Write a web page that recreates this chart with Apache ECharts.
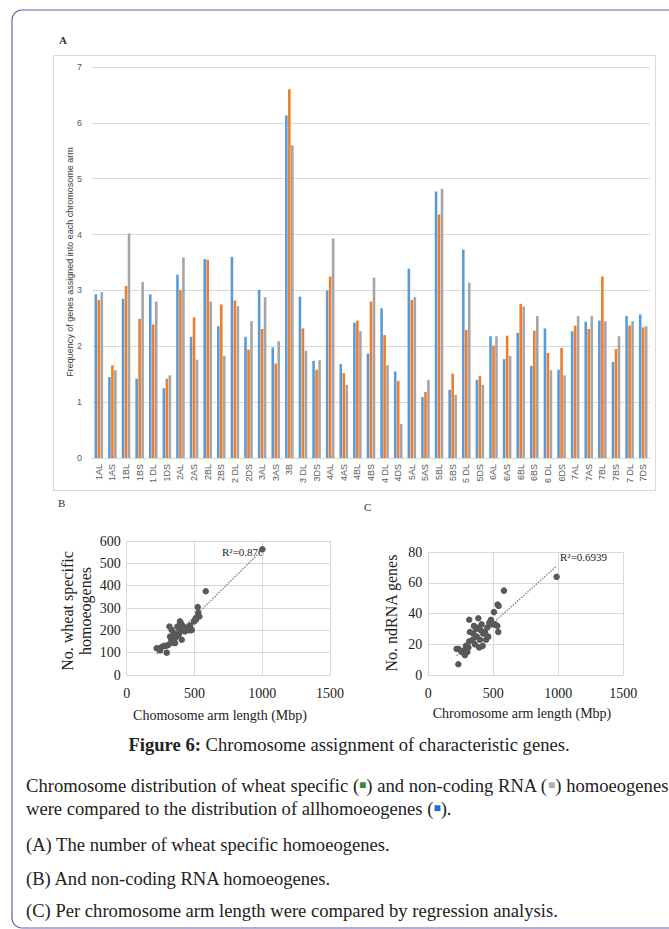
<!DOCTYPE html>
<html>
<head>
<meta charset="utf-8">
<script src="https://cdn.jsdelivr.net/npm/echarts@6/dist/echarts.min.js"></script>
<style>
html,body{margin:0;padding:0;background:#fff;}
#c{width:669px;height:929px;}
</style>
</head>
<body>
<div id="c"></div>
<script>
// ---------- Panel A data ----------
const arms = ["1AL","1AS","1BL","1BS","1 DL","1DS","2AL","2AS","2BL","2BS","2 DL","2DS",
  "3AL","3AS","3B","3 DL","3DS","4AL","4AS","4BL","4BS","4 DL","4DS",
  "5AL","5AS","5BL","5BS","5 DL","5DS","6AL","6AS","6BL","6BS","6 DL","6DS",
  "7AL","7AS","7BL","7BS","7 DL","7DS"];
const allHomoeo = [2.93,1.45,2.85,1.42,2.93,1.25,3.28,2.17,3.56,2.36,3.60,2.17,
  3.01,1.98,6.13,2.89,1.74,3.00,1.68,2.42,1.87,2.68,1.55,
  3.39,1.09,4.77,1.22,3.73,1.40,2.18,1.77,2.24,1.65,2.32,1.58,
  2.27,2.44,2.46,1.72,2.54,2.57];
const wheatSpecific = [2.83,1.66,3.08,2.49,2.39,1.42,3.01,2.52,3.55,2.75,2.82,1.94,
  2.31,1.69,6.60,2.32,1.58,3.25,1.52,2.46,2.80,2.20,1.38,
  2.83,1.18,4.36,1.51,2.29,1.47,2.01,2.19,2.76,2.28,1.88,1.97,
  2.37,2.31,3.25,1.95,2.37,2.34];
const nonCoding = [2.97,1.57,4.02,3.15,2.80,1.48,3.59,1.76,2.80,1.83,2.72,2.45,
  2.88,2.09,5.60,1.92,1.75,3.93,1.31,2.27,3.23,1.66,0.61,
  2.88,1.40,4.82,1.13,3.14,1.31,2.18,1.83,2.71,2.54,1.57,1.48,
  2.54,2.54,2.45,2.18,2.45,2.36];

// ---------- Panel B data: [arm length (Mbp), no. wheat specific homoeogenes] ----------
const scatterB = [[1001,563],[583,375],[524,304],[528,278],[536,262],[511,248],[497,240],[480,202],
  [455,202],[430,195],[393,240],[406,225],[374,217],[315,217],[332,202],[349,187],[384,180],
  [364,170],[406,158],[329,158],[320,172],[357,143],[307,135],[275,131],[258,125],[221,120],
  [246,110],[295,100],[443,210],[467,221],[418,202],[400,232],[385,205],[350,160],[340,145],
  [290,130],[236,118],[510,255],[470,200],[425,215],[395,195]];
const trendB = [0.598, -38];   // slope, intercept
const r2B = "R²=0.876";

// ---------- Panel C data: [arm length (Mbp), no. ncRNA genes] ----------
const scatterC = [[987,64],[582,55],[533,46],[541,45],[505,41],[482,36],[492,33],[513,33],[531,32],
  [538,28],[469,34],[385,37],[315,36],[385,31],[405,29],[423,27],[444,23],[418,19],[392,18],
  [320,28],[346,27],[372,25],[341,23],[315,22],[290,19],[269,16],[231,17],[218,17],[256,15],
  [282,13],[300,15],[308,18],[231,7],[359,20],[397,23],[436,28],[461,25],[367,30],[410,33],
  [351,32],[454,31]];
const trendC = [0.076, -4];
const r2C = "R²=0.6939";

const yTicksA = [0, 7, 1];      // min, max, interval
const xTicksBC = [0, 1500, 500];
const yTicksB = [0, 600, 100];
const yTicksC = [0, 80, 20];

function trendPts(pts, t) {
  const xs = pts.map(p => p[0]);
  const x0 = Math.min.apply(null, xs), x1 = Math.max.apply(null, xs);
  return [[x0, t[0]*x0 + t[1]], [x1, t[0]*x1 + t[1]]];
}

const serif = "'Liberation Serif', 'DejaVu Serif', serif";
const sans = "'Liberation Sans', 'DejaVu Sans', sans-serif";
const gridCol = '#d9d9d9';

function valAxisBC(grid, rng, isX) {
  return {
    type: 'value', gridIndex: grid, min: rng[0], max: rng[1], interval: rng[2],
    axisLine: {show: true, onZero: false, lineStyle: {color: gridCol}},
    axisTick: {show: false},
    splitLine: {show: true, lineStyle: {color: gridCol, width: 1}},
    axisLabel: {fontFamily: serif, fontSize: 14, color: '#222', margin: isX ? 11 : 6,
      formatter: v => String(v)}
  };
}

const chart = echarts.init(document.getElementById('c'), null, {renderer: 'svg', width: 669, height: 929});

const txt = (x, y, text, extra) => Object.assign({
  type: 'text', x: x, y: y, silent: true,
  style: Object.assign({text: text, fill: '#222', fontFamily: serif, fontSize: 14,
    textAlign: 'left', textVerticalAlign: 'middle'}, (extra && extra.style) || {})
}, extra ? {rotation: extra.rotation || 0} : {});

const capSize = 18.6;

chart.setOption({
  animation: false,
  grid: [
    {left: 92, top: 67, width: 558, height: 391},
    {left: 126.7, top: 541, width: 203.3, height: 134},
    {left: 428.3, top: 552.3, width: 195, height: 122.7}
  ],
  xAxis: [
    {type: 'category', gridIndex: 0, data: arms,
     axisLine: {lineStyle: {color: gridCol}}, axisTick: {show: false},
     axisLabel: {rotate: 90, interval: 0, fontSize: 9, fontFamily: sans, color: '#595959', margin: 6}},
    valAxisBC(1, xTicksBC, true),
    valAxisBC(2, xTicksBC, true)
  ],
  yAxis: [
    {type: 'value', gridIndex: 0, min: yTicksA[0], max: yTicksA[1], interval: yTicksA[2],
     axisLine: {show: false}, axisTick: {show: false},
     splitLine: {lineStyle: {color: gridCol}},
     axisLabel: {fontSize: 9, fontFamily: sans, color: '#595959', margin: 10}},
    valAxisBC(1, yTicksB, false),
    valAxisBC(2, yTicksC, false)
  ],
  series: [
    {type: 'bar', xAxisIndex: 0, yAxisIndex: 0, data: allHomoeo, barWidth: 2.6, barGap: '15%', itemStyle: {color: '#5B9BD5'}},
    {type: 'bar', xAxisIndex: 0, yAxisIndex: 0, data: wheatSpecific, barWidth: 2.6, barGap: '15%', itemStyle: {color: '#ED7D31'}},
    {type: 'bar', xAxisIndex: 0, yAxisIndex: 0, data: nonCoding, barWidth: 2.6, barGap: '15%', itemStyle: {color: '#A5A5A5'}},
    {type: 'line', xAxisIndex: 1, yAxisIndex: 1, data: trendPts(scatterB, trendB), symbol: 'none', z: 2,
     lineStyle: {type: 'dotted', color: '#7f7f7f', width: 1.4}},
    {type: 'scatter', xAxisIndex: 1, yAxisIndex: 1, data: scatterB, symbolSize: 6.5, z: 3,
     itemStyle: {color: '#595959', opacity: 1}},
    {type: 'line', xAxisIndex: 2, yAxisIndex: 2, data: trendPts(scatterC, trendC), symbol: 'none', z: 2,
     lineStyle: {type: 'dotted', color: '#7f7f7f', width: 1.4}},
    {type: 'scatter', xAxisIndex: 2, yAxisIndex: 2, data: scatterC, symbolSize: 6.5, z: 3,
     itemStyle: {color: '#595959', opacity: 1}}
  ],
  graphic: [
    {type: 'rect', silent: true, shape: {x: 12, y: 10, width: 700, height: 918, r: 10},
     style: {fill: 'none', stroke: '#6b5fa8', lineWidth: 1.2}},
    {type: 'rect', silent: true, shape: {x: 53.5, y: 55.5, width: 602, height: 435},
     style: {fill: 'none', stroke: '#d9d9d9', lineWidth: 1}},
    txt(59, 40, 'A', {style: {fontSize: 11, fontWeight: 'bold', fill: '#333'}}),
    txt(58, 503, 'B', {style: {fontSize: 11, fill: '#333'}}),
    txt(364, 507, 'C', {style: {fontSize: 11, fill: '#333'}}),
    txt(70, 262, 'Frequency of genes assigned into each chromosome arm',
      {rotation: Math.PI/2, style: {fontFamily: sans, fontSize: 9, fill: '#404040', textAlign: 'center'}}),
    txt(67, 611, 'No. wheat specific', {rotation: Math.PI/2, style: {fontSize: 16, textAlign: 'center'}}),
    txt(85, 611, 'homoeogenes', {rotation: Math.PI/2, style: {fontSize: 16, textAlign: 'center'}}),
    txt(220, 715, 'Chomosome arm length (Mbp)', {style: {fontSize: 14, textAlign: 'center'}}),
    txt(391, 613, 'No. ndRNA genes', {rotation: Math.PI/2, style: {fontSize: 16, textAlign: 'center'}}),
    txt(522, 713, 'Chromosome arm length (Mbp)', {style: {fontSize: 14, textAlign: 'center'}}),
    txt(222, 551.7, r2B, {style: {fontSize: 11}}),
    txt(560, 556.7, r2C, {style: {fontSize: 11}}),
    txt(349, 744, '{b|Figure 6:} Chromosome assignment of characteristic genes.',
      {style: {fontSize: capSize, textAlign: 'center', rich: {b: {fontWeight: 'bold', fontSize: capSize, fontFamily: serif, fill: '#222'}}}}),
    txt(26, 785, 'Chromosome distribution of wheat specific ({g|■}) and non-coding RNA ({s|■}) homoeogenes',
      {style: {fontSize: capSize, rich: {g: {fill: '#3d8b2f', fontSize: 12}, s: {fill: '#b0b0b0', fontSize: 12}}}}),
    txt(26, 808, 'were compared to the distribution of allhomoeogenes ({bl|■}).',
      {style: {fontSize: capSize, rich: {bl: {fill: '#1a75d2', fontSize: 12}}}}),
    txt(26, 844, '(A) The number of wheat specific homoeogenes.', {style: {fontSize: capSize}}),
    txt(26, 878, '(B) And non-coding RNA homoeogenes.', {style: {fontSize: capSize}}),
    txt(26, 910, '(C) Per chromosome arm length were compared by regression analysis.', {style: {fontSize: capSize}})
  ]
});
</script>
</body>
</html>
